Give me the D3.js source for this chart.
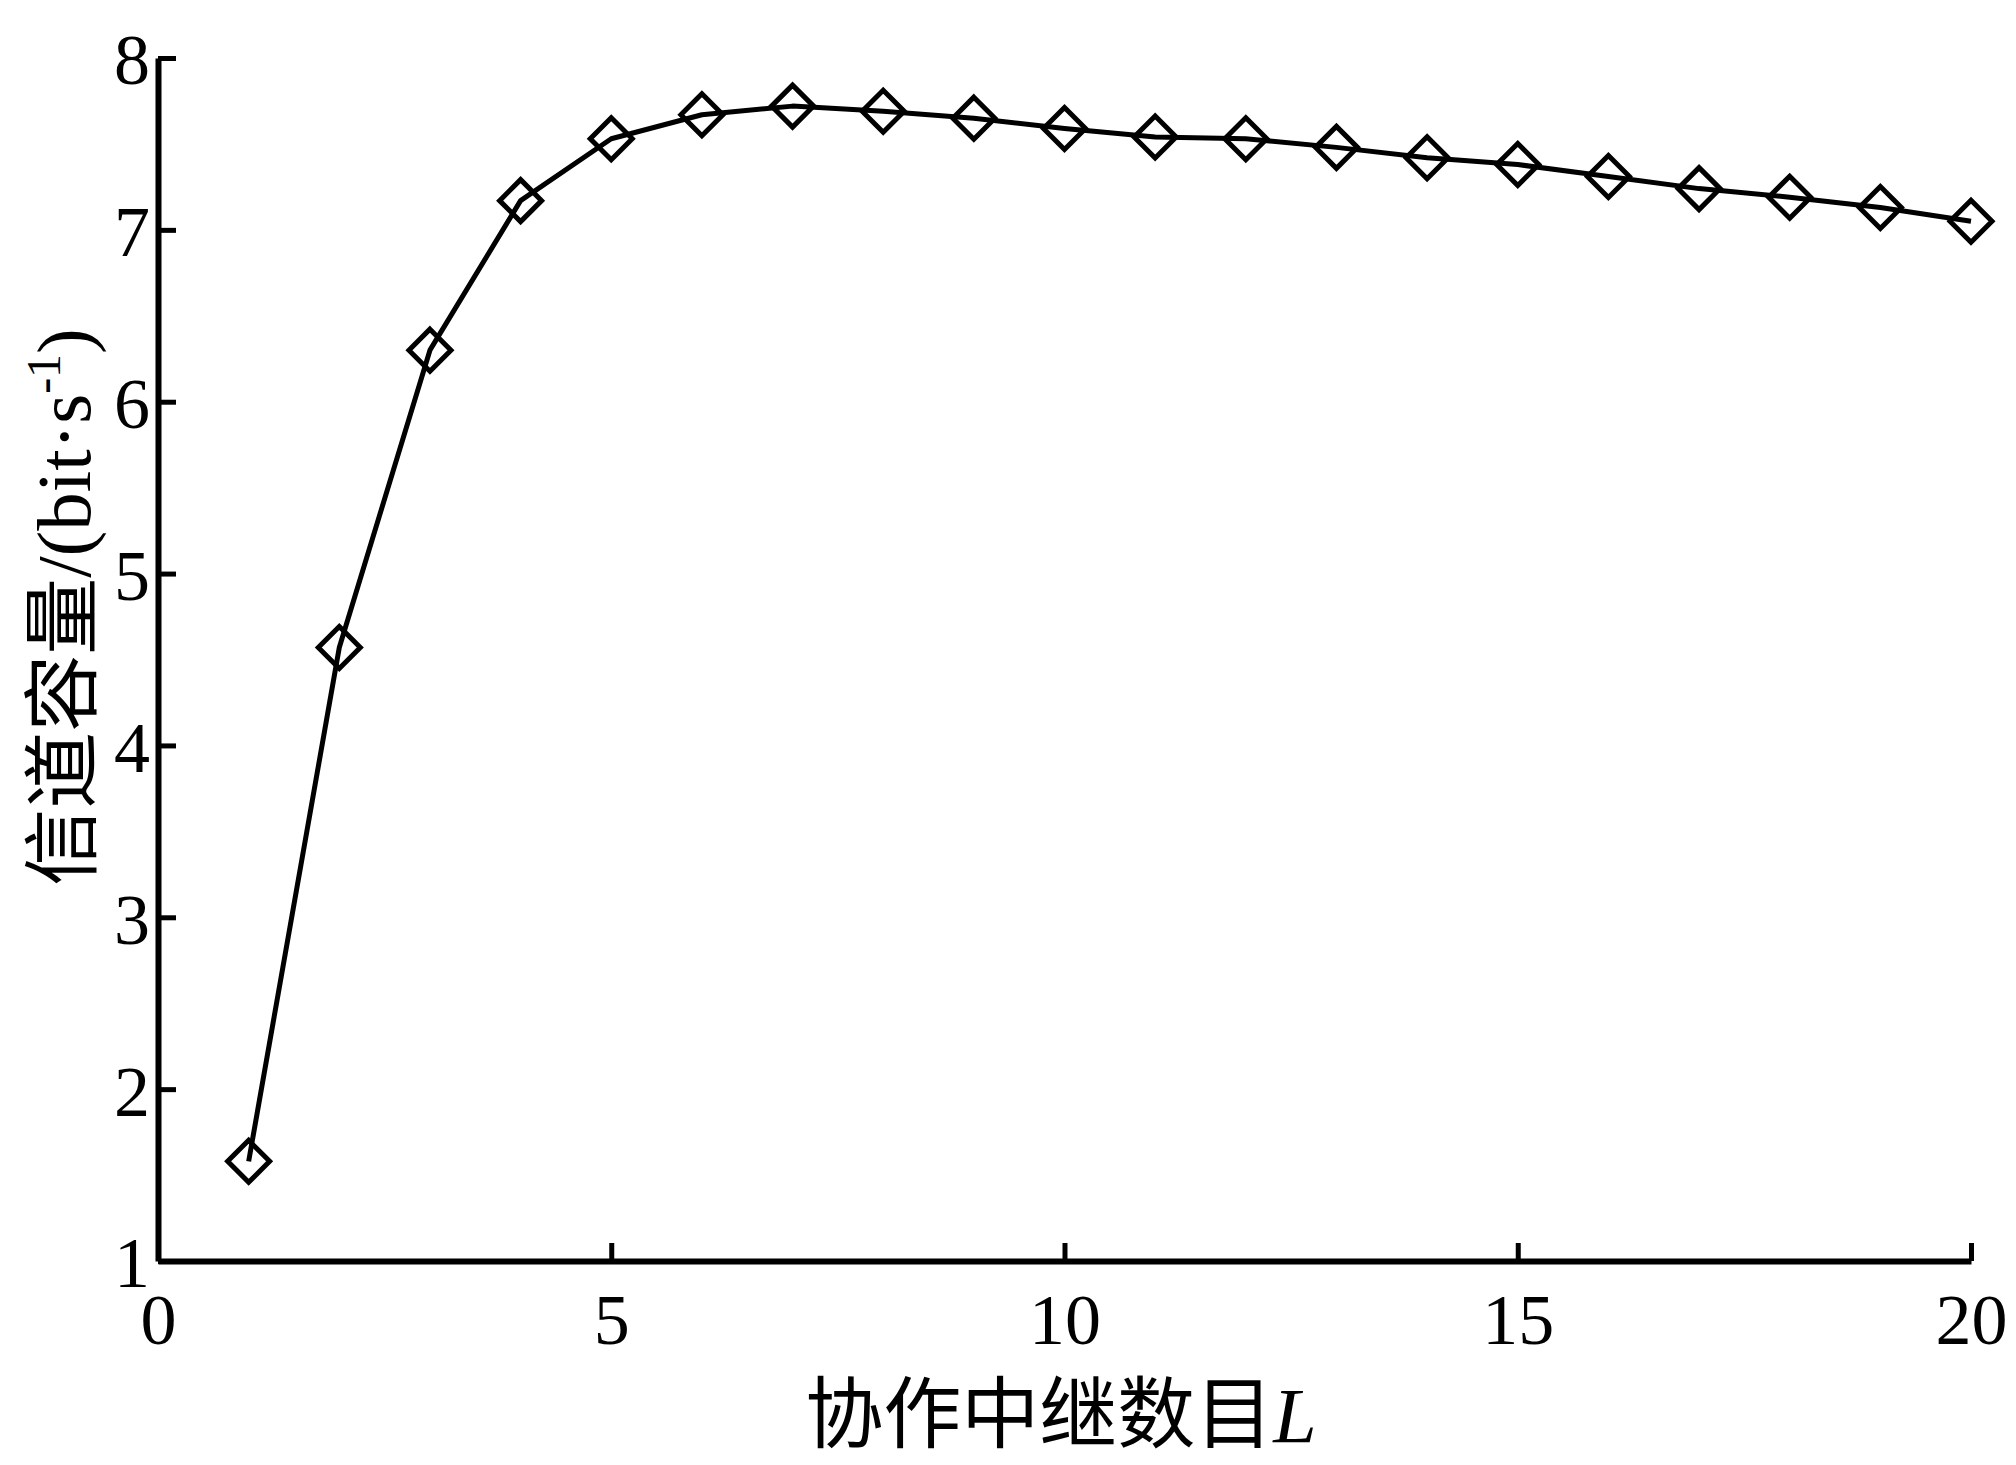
<!DOCTYPE html>
<html>
<head>
<meta charset="utf-8">
<script src="https://cdn.jsdelivr.net/npm/d3@7"></script>
<style>
  body { margin: 0; background: #fff; }
  .tick text { font-family: "Liberation Serif", "Times New Roman", serif; }
</style>
</head>
<body>
<div id="chart"></div>
<script>
// Data
var relayCount = [1, 2, 3, 4, 5, 6, 7, 8, 9, 10, 11, 12, 13, 14, 15, 16, 17, 18, 19, 20];
var capacity = [1.58, 4.57, 6.30, 7.17, 7.53, 7.67, 7.72, 7.69, 7.65, 7.59,
                7.54, 7.53, 7.48, 7.42, 7.38, 7.31, 7.24, 7.19, 7.13, 7.05];
var xTicks = [0, 5, 10, 15, 20];
var yTicks = [1, 2, 3, 4, 5, 6, 7, 8];

var svgWidth = 2016;
var svgHeight = 1465;

var chartMargin = { top: 58, right: 45, bottom: 204, left: 158 };
var chartWidth = svgWidth - chartMargin.left - chartMargin.right;
var chartHeight = svgHeight - chartMargin.top - chartMargin.bottom;

var svg = d3.select("#chart")
  .append("svg")
  .attr("width", svgWidth)
  .attr("height", svgHeight);

var chartGroup = svg.append("g")
  .attr("transform", `translate(${chartMargin.left}, ${chartMargin.top})`);

var xScale = d3.scaleLinear().domain([0, 20]).range([0, chartWidth]);
var yScale = d3.scaleLinear().domain([1, 8]).range([chartHeight, 0]);

var data = relayCount.map((d, i) => ({ L: d, C: capacity[i] }));

// axes, ticks pointing inward
var bottomAxis = d3.axisBottom(xScale).tickValues(xTicks).tickFormat(d3.format("d"))
  .tickSize(-18).tickPadding(32).tickSizeOuter(0);
var leftAxis = d3.axisLeft(yScale).tickValues(yTicks).tickFormat(d3.format("d"))
  .tickSize(-18).tickPadding(8).tickSizeOuter(0);

var gx = chartGroup.append("g")
  .attr("transform", `translate(0, ${chartHeight})`)
  .call(bottomAxis);

var gy = chartGroup.append("g")
  .call(leftAxis);

[gx, gy].forEach(function(g) {
  g.select(".domain").attr("stroke", "#000").attr("stroke-width", 6);
  g.selectAll(".tick line").attr("stroke", "#000").attr("stroke-width", 5);
  g.selectAll(".tick text").style("font-size", "72px").attr("fill", "#000");
});
gy.selectAll(".tick text").attr("dy", "0.36em");

// line
var line = d3.line()
  .x(d => xScale(d.L))
  .y(d => yScale(d.C));

chartGroup.append("path")
  .datum(data)
  .attr("d", line)
  .attr("fill", "none")
  .attr("stroke", "#000")
  .attr("stroke-width", 5)
  .attr("stroke-linejoin", "round");

// diamond markers
chartGroup.selectAll(".marker")
  .data(data)
  .enter()
  .append("path")
  .attr("class", "marker")
  .attr("transform", d => `translate(${xScale(d.L)}, ${yScale(d.C)})`)
  .attr("d", "M0,-21L21,0L0,21L-21,0Z")
  .attr("fill", "none")
  .attr("stroke", "#000")
  .attr("stroke-width", 5);

// x axis title
var xTitle = svg.append("text")
  .attr("x", 1061)
  .attr("y", 1442)
  .attr("text-anchor", "middle")
  .style("font-size", "78px")
  .attr("fill", "#000");
xTitle.append("tspan")
  .style("font-family", "'Noto Sans CJK SC', sans-serif")
  .text("协作中继数目");
xTitle.append("tspan")
  .style("font-family", "'Liberation Serif', serif")
  .style("font-style", "italic")
  .text("L");

// y axis title
var yTitle = svg.append("text")
  .attr("transform", "translate(90, 607) rotate(-90)")
  .attr("text-anchor", "middle")
  .style("font-size", "77px")
  .attr("fill", "#000");
yTitle.append("tspan")
  .style("font-family", "'Noto Sans CJK SC', sans-serif")
  .text("信道容量");
yTitle.append("tspan")
  .style("font-family", "'Liberation Serif', serif")
  .text("/(bit·s");
yTitle.append("tspan")
  .style("font-family", "'Liberation Serif', serif")
  .style("font-size", "48px")
  .attr("dy", "-30")
  .text("-1");
yTitle.append("tspan")
  .style("font-family", "'Liberation Serif', serif")
  .attr("dy", "30")
  .text(")");
</script>
</body>
</html>
